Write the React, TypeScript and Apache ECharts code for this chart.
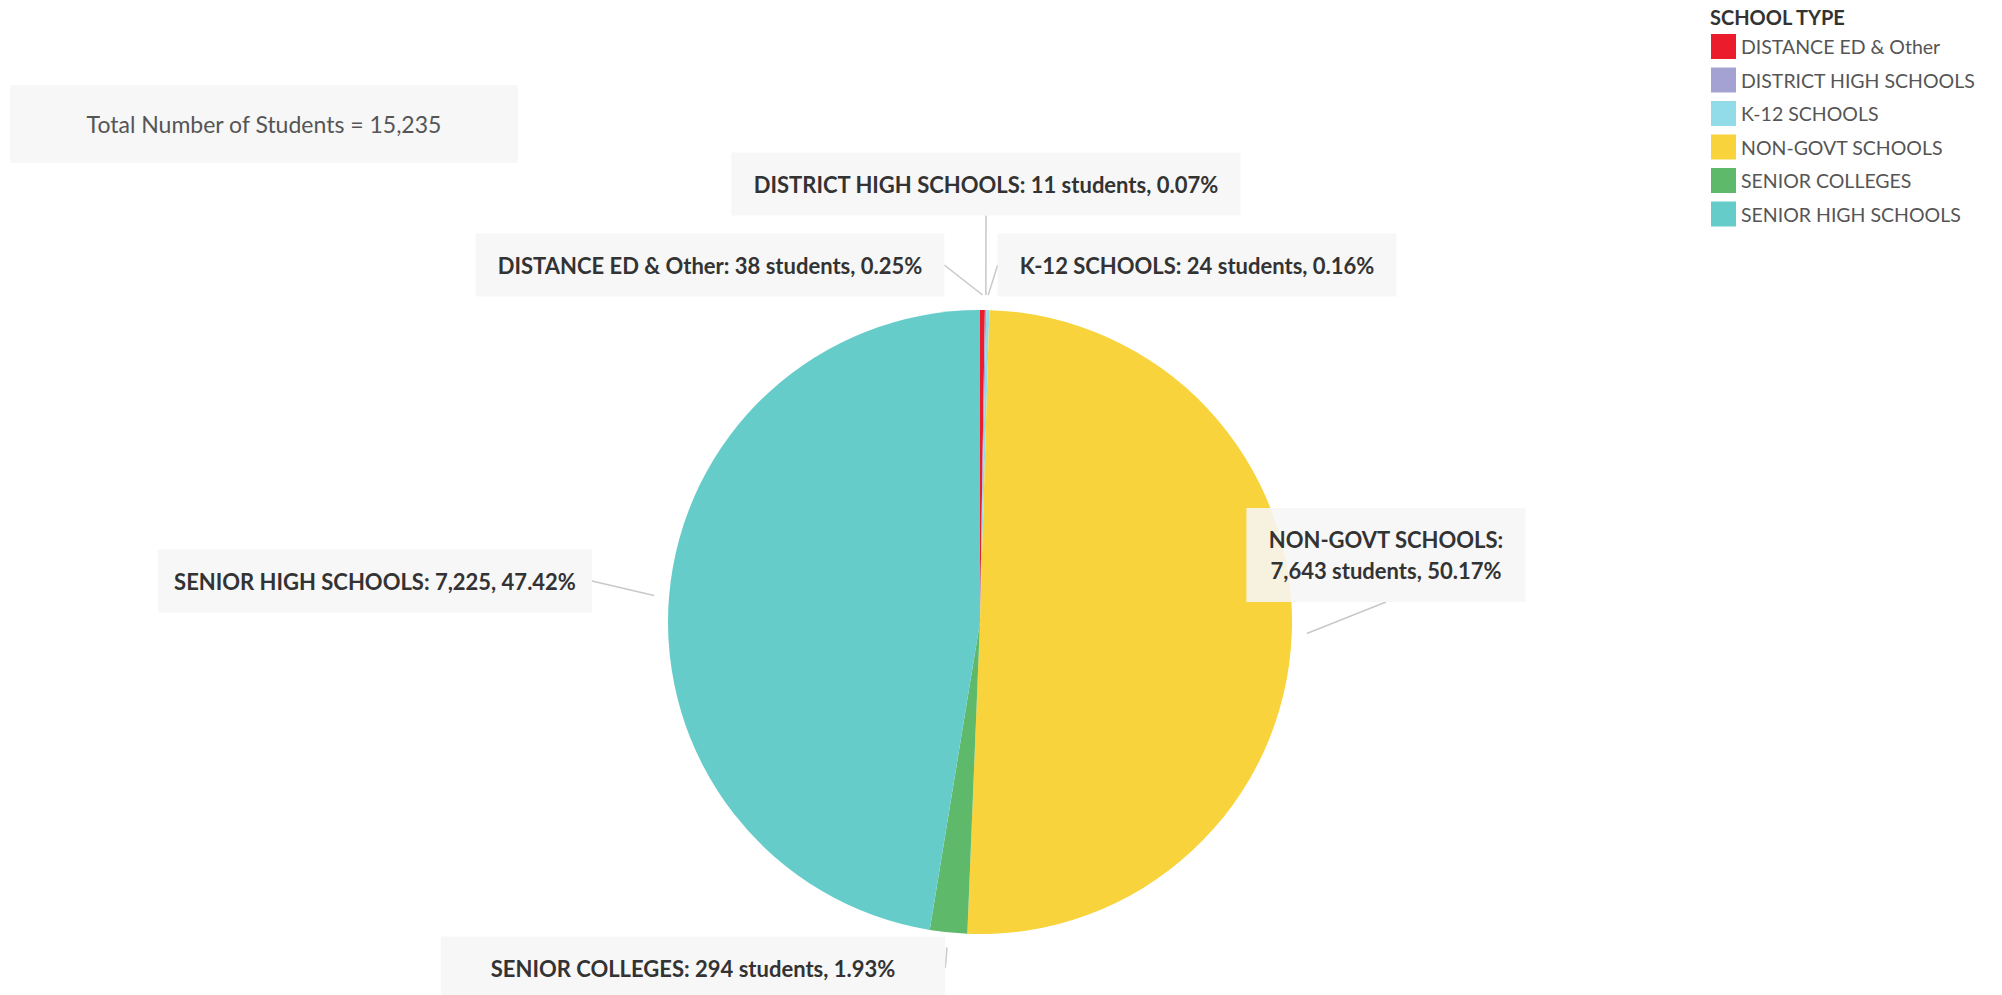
import React, { useEffect, useRef } from "react";
import * as echarts from "echarts";

const categories = [
  "DISTANCE ED & Other",
  "DISTRICT HIGH SCHOOLS",
  "K-12 SCHOOLS",
  "NON-GOVT SCHOOLS",
  "SENIOR COLLEGES",
  "SENIOR HIGH SCHOOLS",
];
const students = [38, 11, 24, 7643, 294, 7225];
const colors = ["#eb1c2b", "#a3a2d2", "#92dce9", "#f9d33b", "#5eb96b", "#66ccca"];
const labelUnit = ["students", "students", "students", "students", "students", ""];
const labelBreak = [false, false, false, true, false, false];

const legendTitle = "SCHOOL TYPE";
const totalLabel = "Total Number of Students";

const fmt = (n: number) => n.toLocaleString("en-US");

export default function App() {
  const ref = useRef<HTMLDivElement>(null);

  useEffect(() => {
    document.body.style.margin = "0";
    if (!ref.current) return;
    const chart = echarts.init(ref.current, undefined, { renderer: "svg" });

    const total = students.reduce((a, b) => a + b, 0);
    const cx = 980;
    const cy = 622;
    const r = 312;
    // label box centres and horizontal paddings, in category order
    const labelPos: [number, number][] = [
      [710, 265],
      [986, 184],
      [1197, 265],
      [1386, 555],
      [693, 968],
      [375, 581],
    ];
    const labelPadX = [22, 22, 22, 22, 50, 16];

    const font = "Lato, 'Noto Sans', sans-serif";

    chart.setOption({
      animation: false,
      backgroundColor: "#ffffff",
      legend: {
        orient: "vertical",
        left: 1706,
        top: 29,
        icon: "rect",
        itemWidth: 25,
        itemHeight: 25,
        itemGap: 8.5,
        selectedMode: false,
        data: categories,
        textStyle: { fontSize: 19.5, color: "#555555", fontFamily: font },
      },
      graphic: [
        {
          type: "text",
          left: 1710,
          top: 7,
          style: {
            text: legendTitle,
            fontSize: 20,
            fontWeight: "bold",
            fill: "#333333",
            fontFamily: font,
          },
        },
        {
          type: "rect",
          shape: { x: 10, y: 85, width: 508, height: 78 },
          style: { fill: "#f7f7f7" },
        },
        {
          type: "text",
          x: 264,
          y: 124,
          style: {
            text: `${totalLabel} = ${fmt(total)}`,
            fontSize: 23,
            fill: "#555555",
            fontFamily: font,
            align: "center",
            verticalAlign: "middle",
          },
        },
      ],
      series: [
        {
          type: "pie",
          z: 1,
          center: [cx, cy],
          radius: r,
          startAngle: 90,
          clockwise: true,
          avoidLabelOverlap: false,
          silent: true,
          label: { show: false },
          labelLine: { show: false },
          data: categories.map((name, i) => ({
            name,
            value: students[i],
            itemStyle: { color: colors[i] },
          })),
        },
        {
          type: "pie",
          z: 5,
          center: [cx, cy],
          radius: r + 15,
          startAngle: 90,
          clockwise: true,
          avoidLabelOverlap: false,
          silent: true,
          data: categories.map((name, i) => ({
            name,
            value: students[i],
            itemStyle: { color: "rgba(0,0,0,0)" },
            label: { padding: [16, labelPadX[i]] },
          })),
          label: {
            show: true,
            position: "outside",
            color: "#333333",
            fontFamily: font,
            fontWeight: "bold",
            fontSize: 22,
            lineHeight: 31,
            padding: [16, 22],
            backgroundColor: "rgba(246,246,246,0.88)",
            formatter: (p: any) => {
              const i = p.dataIndex;
              const pct = ((students[i] / total) * 100).toFixed(2);
              const unit = labelUnit[i] ? ` ${labelUnit[i]}` : "";
              const sep = labelBreak[i] ? ":\n" : ": ";
              return `${categories[i]}${sep}${fmt(students[i])}${unit}, ${pct}%`;
            },
          },
          labelLine: {
            show: true,
            length: 10,
            length2: 0,
            smooth: false,
            lineStyle: { color: "#c8c8c8", width: 1.5 },
          },
          labelLayout: (params: any) => {
            const [x, y] = labelPos[params.dataIndex];
            return { x, y, align: "center", verticalAlign: "middle" };
          },
        },
      ],
    });

    return () => chart.dispose();
  }, []);

  return <div ref={ref} style={{ width: 2002, height: 995 }} />;
}
